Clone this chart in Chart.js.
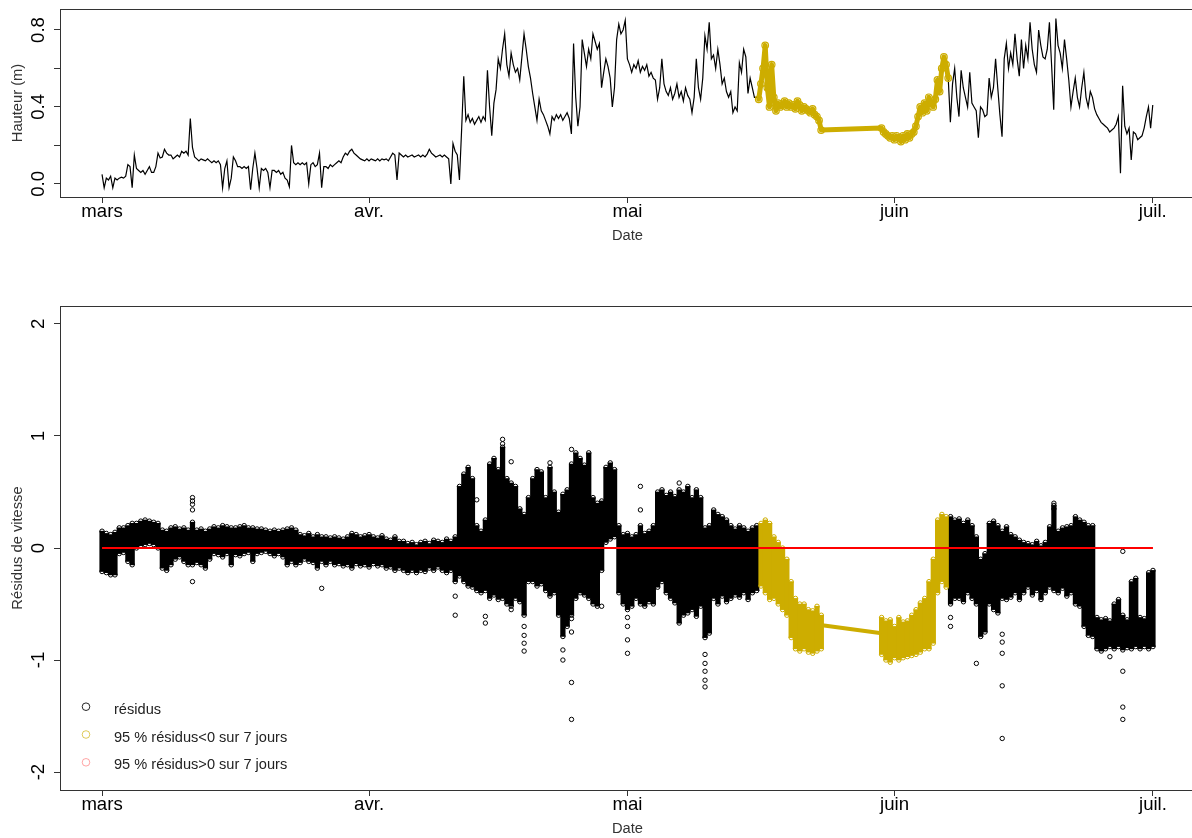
<!DOCTYPE html>
<html lang="fr">
<head>
<meta charset="utf-8">
<title>Hauteur et résidus de vitesse</title>
<script src="https://cdn.jsdelivr.net/npm/chart.js@4"></script>
<style>
  html, body { margin: 0; padding: 0; background: #fff; overflow: hidden; }
  .panneau { position: absolute; left: 0; }
</style>
</head>
<body>
<div class="panneau" style="top:0"><canvas id="cvHauteur" width="1200" height="245"></canvas></div>
<div class="panneau" style="top:260px"><canvas id="cvResidus" width="1200" height="578"></canvas></div>
<script>
const mois = ['mars', 'avr.', 'mai', 'juin', 'juil.'];
const debutMois = [0, 31, 61, 92, 122];   // jours depuis le 1er mars

// hauteur d'eau (m), un relevé toutes les 6 h depuis le 1er mars
const hauteur = [
  0.05, -0.02, 0.03, 0.02,   0.04, -0.02, 0.03, 0.02,   0.03, 0.035, 0.03, 0.04,
  0.10, 0.09, -0.02, 0.15,   0.08, 0.07, 0.06, 0.07,    0.05, 0.07, 0.09, 0.06,
  0.06, 0.09, 0.16, 0.135,   0.14, 0.18, 0.16, 0.15,    0.15, 0.13, 0.14, 0.15,
  0.14, 0.17, 0.16, 0.17,    0.15, 0.34, 0.19, 0.14,    0.13, 0.12, 0.13, 0.125,
  0.12, 0.13, 0.12, 0.11,    0.12, 0.11, 0.12, 0.10,    -0.02, 0.08, 0.12, -0.02,
  0.03, 0.14, 0.12, 0.09,    0.09, 0.08, 0.09, 0.08,    0.09, -0.03, 0.08, 0.16,
  0.08, -0.02, 0.08, 0.07,   0.08, 0.06, -0.02, 0.07,   0.07, 0.06, 0.07, 0.05,
  0.06, 0.03, 0.02, -0.015,  0.20, 0.11, 0.10, 0.11,    0.10, 0.11, 0.10, 0.11,
  0.0, 0.10, 0.11, 0.09,     0.10, 0.16, -0.02, 0.09,   0.09, 0.08, 0.10, 0.09,
  0.10, 0.11, 0.12, 0.11,    0.14, 0.16, 0.15, 0.17,    0.18, 0.16, 0.15, 0.14,
  0.13, 0.125, 0.12, 0.13,   0.12, 0.13, 0.125, 0.12,   0.13, 0.12, 0.13, 0.125,
  0.13, 0.12, 0.14, 0.16,    0.15, 0.02, 0.16, 0.15,    0.14, 0.15, 0.14, 0.145,
  0.15, 0.14, 0.145, 0.15,   0.14, 0.15, 0.14, 0.155,   0.18, 0.16, 0.15, 0.14,
  0.145, 0.15, 0.14, 0.15,   0.14, 0.13, 0.0, 0.21,     0.17, 0.15, 0.02, 0.28,
  0.56, 0.33, 0.36, 0.32,    0.34, 0.31, 0.33, 0.35,    0.32, 0.35, 0.33, 0.59,
  0.40, 0.25, 0.42, 0.49,    0.65, 0.60, 0.70, 0.78,    0.62, 0.56, 0.68, 0.62,
  0.58, 0.60, 0.54, 0.66,    0.78, 0.70, 0.61, 0.55,    0.47, 0.40, 0.33, 0.44,
  0.38, 0.36, 0.33, 0.30,    0.26, 0.35, 0.33, 0.36,    0.34, 0.36, 0.33, 0.35,
  0.37, 0.34, 0.26, 0.73,    0.45, 0.30, 0.40, 0.75,    0.68, 0.61, 0.70, 0.65,
  0.78, 0.74, 0.70, 0.73,    0.50, 0.58, 0.65, 0.61,    0.55, 0.40, 0.50, 0.75,
  0.83, 0.78, 0.80, 0.85,    0.65, 0.62, 0.58, 0.62,    0.60, 0.64, 0.58, 0.61,
  0.59, 0.62, 0.56, 0.58,    0.55, 0.54, 0.44, 0.50,    0.65, 0.52, 0.48, 0.46,
  0.50, 0.44, 0.47, 0.52,    0.45, 0.48, 0.43, 0.50,    0.46, 0.44, 0.37, 0.45,
  0.65, 0.50, 0.44, 0.55,    0.77, 0.70, 0.84, 0.65,    0.67, 0.60, 0.70, 0.62,
  0.52, 0.55, 0.48, 0.45,    0.48, 0.37, 0.40, 0.38,    0.63, 0.58, 0.70, 0.66,
  0.47, 0.55, 0.50, 0.45,    0.45, 0.44, 0.52, 0.60,    0.72, 0.50, 0.40, 0.62,
  0.45, 0.38, 0.42, 0.40,    0.41, 0.43, 0.40, 0.42,    0.40, 0.41, 0.39, 0.43,
  0.41, 0.38, 0.40, 0.39,    0.38, 0.37, 0.39, 0.36,    0.35, 0.33, 0.28, null,
  null, null, null, null,    null, null, null, null,    null, null, null, null,
  null, null, null, null,    null, null, null, null,    null, null, null, null,
  null, null, 0.29, 0.27,    0.26, 0.25, 0.24, 0.25,    0.23, 0.25, 0.24, 0.22,
  0.25, 0.23, 0.26, 0.24,    0.26, 0.27, 0.30, 0.35,    0.40, 0.37, 0.42, 0.38,
  0.45, 0.42, 0.40, 0.44,    0.54, 0.48, 0.60, 0.66,    0.62, 0.55, 0.32, 0.52,
  0.60, 0.45, 0.35, 0.59,    0.50, 0.45, 0.40, 0.58,    0.42, 0.40, 0.38, 0.24,
  0.40, 0.385, 0.35, 0.36,   0.55, 0.45, 0.50, 0.65,    0.50, 0.36, 0.245, 0.65,
  0.73, 0.60, 0.68, 0.62,    0.78, 0.65, 0.56, 0.75,    0.60, 0.72, 0.65, 0.84,
  0.70, 0.62, 0.58, 0.80,    0.72, 0.66, 0.65, 0.70,    0.84, 0.62, 0.385, 0.86,
  0.72, 0.68, 0.60, 0.75,    0.65, 0.54, 0.40, 0.48,    0.55, 0.45, 0.40, 0.50,
  0.58, 0.45, 0.40, 0.48,    0.45, 0.39, 0.36, 0.34,    0.32, 0.31, 0.30, 0.29,
  0.27, 0.28, 0.29, 0.31,    0.35, 0.055, 0.51, 0.30,   0.26, 0.29, 0.125, 0.27,
  0.26, 0.23, 0.24, 0.25,    0.29, 0.35, 0.40, 0.29,
  0.41
];

// résidus de vitesse : bornes basse et haute du nuage, par demi-journée
const residusBas = [
  -0.21, -0.22, -0.24, -0.24, -0.05, -0.04, -0.12, -0.15, 0.0, 0.02,
  0.03, 0.04, 0.03, 0.0, -0.18, -0.2, -0.15, -0.1, -0.08, -0.12,
  -0.15, -0.15, -0.13, -0.15, -0.18, -0.1, -0.05, -0.06, -0.08, -0.05,
  -0.15, -0.06, -0.07, -0.05, -0.04, -0.12, -0.05, -0.04, -0.03, -0.05,
  -0.07, -0.05, -0.08, -0.15, -0.12, -0.15, -0.13, -0.1, -0.12, -0.13,
  -0.18, -0.12, -0.15, -0.12, -0.15, -0.14, -0.16, -0.15, -0.18, -0.14,
  -0.16, -0.15, -0.17, -0.14, -0.16, -0.15, -0.18, -0.17, -0.2, -0.18,
  -0.2, -0.22, -0.2, -0.22, -0.2, -0.21, -0.18, -0.2, -0.17, -0.2,
  -0.22, -0.2, -0.3, -0.25, -0.3, -0.34, -0.35, -0.38, -0.4, -0.38,
  -0.45, -0.42, -0.46, -0.45, -0.5, -0.52, -0.45, -0.48, -0.6, -0.3,
  -0.3, -0.34, -0.32, -0.38, -0.43, -0.4, -0.6, -0.79, -0.7, -0.6,
  -0.45, -0.4, -0.42, -0.45, -0.5, -0.52, -0.2, 0.05, 0.08, 0.1,
  -0.4, -0.5, -0.55, -0.52, -0.45, -0.5, -0.52, -0.48, -0.5, -0.35,
  -0.3, -0.4, -0.45, -0.49, -0.67, -0.6, -0.58, -0.55, -0.61, -0.52,
  -0.8, -0.76, -0.45, -0.5, -0.43, -0.48, -0.45, -0.42, -0.44, -0.4,
  -0.46, -0.4, -0.38, -0.34, -0.4, -0.46, -0.45, -0.5, -0.55, -0.6,
  -0.8, -0.9, -0.92, -0.9, -0.93, -0.94, -0.92, -0.9, null, null,
  null, null, null, null, null, null, null, null, null, null,
  null, -0.95, -1.0, -1.02, -0.98, -1.0, -0.98, -0.97, -0.96, -0.95,
  -0.93, -0.9, -0.9, -0.85, -0.4, -0.3, -0.35, -0.5, -0.45, -0.45,
  -0.48, -0.4, -0.45, -0.5, -0.79, -0.75, -0.5, -0.55, -0.58, -0.45,
  -0.46, -0.44, -0.4, -0.46, -0.4, -0.35, -0.42, -0.38, -0.46, -0.4,
  -0.35, -0.38, -0.4, -0.36, -0.43, -0.4, -0.5, -0.52, -0.7, -0.78,
  -0.79, -0.9, -0.92, -0.9, -0.88, -0.9, -0.88, -0.91, -0.89, -0.9,
  -0.88, -0.9, -0.88, -0.9, -0.88
];
const residusHaut = [
  0.15, 0.13, 0.12, 0.14, 0.18, 0.18, 0.2, 0.22, 0.22, 0.24,
  0.25, 0.24, 0.23, 0.22, 0.16, 0.15, 0.18, 0.19, 0.17, 0.18,
  0.16, 0.23, 0.16, 0.17, 0.15, 0.17, 0.19, 0.18, 0.2, 0.19,
  0.18, 0.18, 0.19, 0.2, 0.18, 0.18, 0.17, 0.17, 0.16, 0.15,
  0.16, 0.15, 0.16, 0.17, 0.18, 0.16, 0.12, 0.11, 0.13, 0.1,
  0.12, 0.1, 0.1, 0.09, 0.1, 0.09, 0.08, 0.1, 0.13, 0.12,
  0.1, 0.11, 0.12, 0.1, 0.09, 0.11, 0.08, 0.07, 0.1, 0.06,
  0.06, 0.04, 0.05, 0.03, 0.05, 0.06, 0.04, 0.07, 0.06, 0.05,
  0.08, 0.06, 0.1, 0.55, 0.66, 0.72, 0.62, 0.2, 0.15, 0.25,
  0.75, 0.8, 0.7, 0.9, 0.62, 0.58, 0.55, 0.35, 0.3, 0.45,
  0.62, 0.7, 0.68, 0.45, 0.72, 0.5, 0.32, 0.48, 0.52, 0.75,
  0.85, 0.8, 0.74, 0.85, 0.45, 0.4, 0.42, 0.72, 0.76, 0.7,
  0.2, 0.12, 0.13, 0.1, 0.12, 0.2, 0.13, 0.15, 0.2, 0.5,
  0.52, 0.47, 0.5, 0.46, 0.52, 0.5, 0.55, 0.45, 0.52, 0.45,
  0.18, 0.2, 0.34, 0.3, 0.28, 0.25, 0.2, 0.17, 0.2, 0.18,
  0.15, 0.18, 0.2, 0.22, 0.25, 0.22, 0.1, 0.05, 0.0, -0.1,
  -0.3, -0.45, -0.5, -0.5, -0.55, -0.56, -0.52, -0.6, null, null,
  null, null, null, null, null, null, null, null, null, null,
  null, -0.62, -0.65, -0.64, -0.7, -0.62, -0.66, -0.65, -0.6, -0.55,
  -0.49, -0.45, -0.3, -0.1, 0.25, 0.3, 0.28, 0.28, 0.25, 0.26,
  0.22, 0.25, 0.2, 0.1, -0.1, -0.05, 0.22, 0.24, 0.2, 0.15,
  0.19, 0.12, 0.1, 0.07, 0.05, 0.04, 0.03, 0.06, 0.02, 0.05,
  0.19, 0.38, 0.15, 0.18, 0.19, 0.2, 0.28, 0.25, 0.23, 0.2,
  0.2, -0.62, -0.64, -0.63, -0.65, -0.5, -0.46, -0.6, -0.64, -0.3,
  -0.27, -0.62, -0.63, -0.22, -0.2
];
// résidus isolés hors du nuage [jour, valeur]
const residusIsoles = [
  [10.5, 0.45], [10.5, 0.42], [10.5, 0.39], [10.5, 0.34], [10.5, -0.30],
  [25.5, -0.36], [41, -0.43], [41, -0.6], [43.5, 0.43], [44.5, -0.61], [44.5, -0.67],
  [46.5, 0.97], [46.5, 0.93], [47.5, 0.77], [47.5, -0.55],
  [49, -0.7], [49, -0.78], [49, -0.85], [49, -0.92], [52, 0.76],
  [53.5, -0.91], [53.5, -1.0], [54.5, 0.88], [54.5, -0.63], [54.5, -0.75], [54.5, -1.2], [54.5, -1.53],
  [58, -0.52], [61, -0.62], [61, -0.7], [61, -0.82], [61, -0.94], [62.5, 0.55], [62.5, 0.34], [67, 0.58],
  [70, -0.95], [70, -1.03], [70, -1.1], [70, -1.18], [70, -1.24],
  [98.5, -0.62], [98.5, -0.7], [101.5, -1.03],
  [104.5, -0.77], [104.5, -0.84], [104.5, -0.94], [104.5, -1.23], [104.5, -1.7],
  [110.5, 0.40], [110.5, 0.35], [117, -0.97],
  [118.5, -0.03], [118.5, -1.1], [118.5, -1.42], [118.5, -1.53]
];
// période où 95 % des résidus sont < 0 sur 7 jours (jours)
const alerte = [76.25, 98.4];
// liaison tracée à travers la lacune de mesures [jour, valeur]
const lacune = [[83.6, -0.69], [90.5, -0.76]];

const graduationsH = [0, 0.2, 0.4, 0.6, 0.8];
const etiquettesH = ['0.0', '', '0.4', '', '0.8'];
const graduationsR = [-2, -1, 0, 1, 2];
const etiquettesR = ['-2', '-1', '0', '1', '2'];
const legende = ['résidus', '95 % résidus<0 sur 7 jours', '95 % résidus>0 sur 7 jours'];

const police = '"Liberation Sans", Arial, sans-serif';
const OR = '#CDAD00';
const pasH = 0.25, pasR = 0.5;
const dansAlerte = j => j >= alerte[0] && j <= alerte[1];

// cadre autour de la zone de tracé
const cadre = {
  id: 'cadre',
  afterDraw(chart) {
    const { ctx, chartArea: a } = chart;
    ctx.save();
    ctx.strokeStyle = '#333';
    ctx.lineWidth = 1;
    ctx.strokeRect(Math.round(a.left) + 0.5, Math.round(a.top) + 0.5,
      Math.round(a.right - a.left), Math.round(a.bottom - a.top));
    ctx.restore();
  }
};

const legendeResidus = {
  id: 'legendeResidus',
  afterDraw(chart) {
    const { ctx, chartArea: a } = chart;
    const teintes = ['rgba(0,0,0,0.85)', 'rgba(205,173,0,0.65)', 'rgba(255,0,0,0.35)'];
    ctx.save();
    ctx.font = '14.6px ' + police;
    ctx.textBaseline = 'middle';
    ctx.textAlign = 'left';
    legende.forEach((txt, i) => {
      const y = a.bottom - 83.3 + i * 27.8;
      ctx.beginPath();
      ctx.arc(a.left + 26, y, 3.8, 0, 2 * Math.PI);
      ctx.strokeStyle = teintes[i];
      ctx.lineWidth = 1;
      ctx.stroke();
      ctx.fillStyle = '#222';
      ctx.fillText(txt, a.left + 54, y + 3);
    });
    ctx.restore();
  }
};

function axeX() {
  return {
    type: 'linear', min: -4.88, max: 126.88, offset: false,
    afterBuildTicks: s => { s.ticks = debutMois.map(v => ({ value: v })); },
    afterFit: s => { s.height = 48; },
    ticks: {
      autoSkip: false, maxRotation: 0, padding: 0, color: '#000',
      font: { family: police, size: 18.6, lineHeight: 1 },
      callback: (v, i) => mois[i]
    },
    grid: { drawOnChartArea: false, tickLength: 6, color: '#333', offset: false },
    border: { display: false },
    title: { display: true, text: 'Date', color: '#333', font: { family: police, size: 14.7 }, padding: 0 }
  };
}

function axeY(min, max, graduations, etiquettes, titre, ecart) {
  return {
    type: 'linear', min, max,
    afterBuildTicks: s => { s.ticks = graduations.map(v => ({ value: v })); },
    afterFit: s => { s.width = 60; s.paddingTop = 0; s.paddingBottom = 0; },
    ticks: {
      autoSkip: false, minRotation: 90, maxRotation: 90, crossAlign: 'center',
      padding: ecart, color: '#000',
      font: { family: police, size: 18.6 },
      callback: (v, i) => etiquettes[i]
    },
    grid: { drawOnChartArea: false, tickLength: 6, color: '#333' },
    border: { display: false },
    title: { display: true, text: titre, color: '#333', font: { family: police, size: 14.7 }, padding: { top: 8.7, bottom: 0 } }
  };
}

const commun = {
  responsive: false,
  animation: false,
  events: [],
  plugins: { legend: { display: false }, tooltip: { enabled: false } }
};

// --- hauteur d'eau ---
const ptsHauteur = hauteur.map((v, i) => ({ x: i * pasH, y: v }));
const ptsHauteurAlerte = ptsHauteur.filter(p => dansAlerte(p.x));

new Chart(document.getElementById('cvHauteur'), {
  type: 'line',
  data: {
    datasets: [
      {
        data: ptsHauteur, borderColor: '#000', borderWidth: 1.2,
        pointRadius: 0, spanGaps: true, tension: 0, order: 1
      },
      {
        data: ptsHauteurAlerte, borderColor: OR, borderWidth: 5,
        borderJoinStyle: 'round', borderCapStyle: 'round',
        pointRadius: 3.3, pointBorderWidth: 1.2, pointBorderColor: OR,
        pointBackgroundColor: 'rgba(0,0,0,0)', spanGaps: true, tension: 0, order: 0
      }
    ]
  },
  options: {
    ...commun,
    layout: { padding: { top: 9, right: 4, left: 0, bottom: 0 } },
    scales: {
      x: axeX(),
      y: axeY(-0.068, 0.909, graduationsH, etiquettesH, 'Hauteur (m)', 2.5)
    }
  },
  plugins: [cadre]
});

// --- résidus de vitesse ---
const tranches = residusBas
  .map((b, i) => ({ x: i * pasR, y: [b, residusHaut[i]] }))
  .filter(p => p.y[0] !== null);
const bornes = tranches.flatMap(p => [{ x: p.x, y: p.y[0] }, { x: p.x, y: p.y[1] }]);
const isoles = residusIsoles.map(([x, y]) => ({ x, y }));

const nuage = (pts, couleur, ordre) => ({
  type: 'scatter', data: pts, showLine: false, order: ordre,
  pointStyle: 'circle', pointRadius: 2.2, pointBorderWidth: 1,
  pointBorderColor: couleur, pointBackgroundColor: 'rgba(0,0,0,0)'
});
const bande = (pts, couleur, ordre) => ({
  type: 'bar', data: pts, backgroundColor: couleur, borderWidth: 0,
  barThickness: 4.6, grouped: false, order: ordre
});

new Chart(document.getElementById('cvResidus'), {
  type: 'scatter',
  data: {
    datasets: [
      {
        type: 'line', data: [{ x: debutMois[0], y: 0 }, { x: debutMois[4], y: 0 }],
        borderColor: '#FF0000', borderWidth: 2, pointRadius: 0, order: 0
      },
      nuage(bornes.filter(p => dansAlerte(p.x)), OR, 1),
      {
        type: 'line', data: lacune.map(([x, y]) => ({ x, y })),
        borderColor: OR, borderWidth: 4, pointRadius: 0, order: 1
      },
      bande(tranches.filter(p => dansAlerte(p.x)), OR, 2),
      nuage(bornes.filter(p => !dansAlerte(p.x)).concat(isoles), '#000', 3),
      bande(tranches.filter(p => !dansAlerte(p.x)), '#000', 4)
    ]
  },
  options: {
    ...commun,
    layout: { padding: { top: 46, right: 4, left: 0, bottom: 0 } },
    scales: {
      x: axeX(),
      y: axeY(-2.16, 2.16, graduationsR, etiquettesR, 'Résidus de vitesse', 6.5)
    }
  },
  plugins: [cadre, legendeResidus]
});
</script>
</body>
</html>
